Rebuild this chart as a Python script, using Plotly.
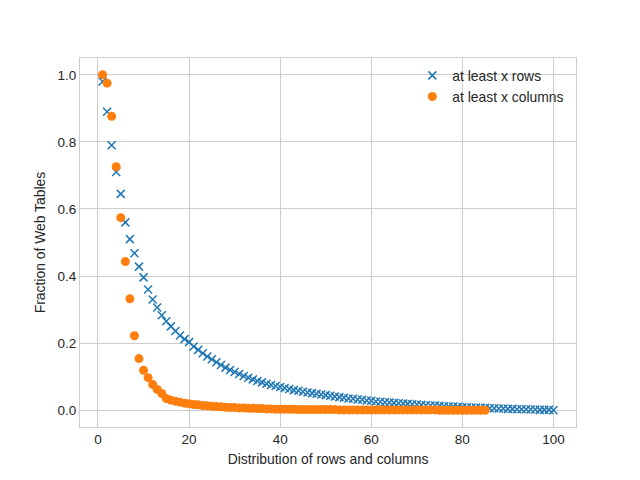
import plotly.graph_objects as go

# at least x rows (x = 1..100)
rows_x = list(range(1, 101))
rows_frac = [
    0.98, 0.89, 0.79, 0.71, 0.645, 0.56, 0.51, 0.468, 0.428, 0.396,
    0.36, 0.33, 0.306, 0.283, 0.265, 0.25, 0.236, 0.223, 0.212, 0.203,
    0.19, 0.18, 0.17, 0.16, 0.152, 0.143, 0.135, 0.127, 0.12, 0.114,
    0.108, 0.102, 0.097, 0.092, 0.087, 0.083, 0.079, 0.075, 0.072, 0.069,
    0.066, 0.063, 0.06, 0.058, 0.055, 0.053, 0.051, 0.049, 0.047, 0.045,
    0.043, 0.041, 0.039, 0.037, 0.035, 0.034, 0.032, 0.031, 0.029, 0.028,
    0.026, 0.025, 0.024, 0.023, 0.022, 0.021, 0.02, 0.019, 0.018, 0.017,
    0.016, 0.015, 0.014, 0.014, 0.013, 0.012, 0.011, 0.011, 0.01, 0.009,
    0.009, 0.008, 0.008, 0.007, 0.007, 0.006, 0.006, 0.005, 0.005, 0.004,
    0.004, 0.003, 0.003, 0.003, 0.002, 0.002, 0.001, 0.001, 0.001, 0.0,
]

# at least x columns (x = 1..85)
cols_x = list(range(1, 86))
cols_frac = [
    1.0, 0.975, 0.876, 0.726, 0.574, 0.443, 0.332, 0.222, 0.154, 0.119,
    0.097, 0.077, 0.062, 0.05, 0.035, 0.03, 0.027, 0.024, 0.021, 0.019,
    0.017, 0.016, 0.014, 0.013, 0.012, 0.011, 0.01, 0.009, 0.008, 0.008,
    0.007, 0.007, 0.006, 0.006, 0.005, 0.005, 0.004, 0.004, 0.003, 0.003,
    0.003, 0.003, 0.003, 0.002, 0.002, 0.002, 0.002, 0.002, 0.002, 0.002,
    0.002, 0.002, 0.001, 0.001, 0.001, 0.001, 0.001, 0.001, 0.001, 0.001,
    0.001, 0.001, 0.001, 0.001, 0.001, 0.001, 0.001, 0.001, 0.001, 0.001,
    0.001, 0.001, 0.001, 0.001, 0.0, 0.0, 0.0, 0.0, 0.0, 0.0,
    0.0, 0.0, 0.0, 0.0, 0.0,
]

x_ticks = [0, 20, 40, 60, 80, 100]
y_ticks = [0.0, 0.2, 0.4, 0.6, 0.8, 1.0]

txt = "#262626"
grid = "#cccccc"

fig = go.Figure()
fig.add_trace(go.Scatter(
    x=rows_x, y=rows_frac, mode="markers", name="at least x rows",
    marker=dict(symbol="x-thin", size=8, color="#1f77b4",
                line=dict(width=1.5, color="#1f77b4")),
))
fig.add_trace(go.Scatter(
    x=cols_x, y=cols_frac, mode="markers", name="at least x columns",
    marker=dict(symbol="circle", size=9, color="#ff7f0e"),
))

axis_common = dict(
    showgrid=True, gridcolor=grid, gridwidth=1,
    zeroline=False, showline=True, linecolor=grid, linewidth=1, mirror=True,
    ticks="", tickfont=dict(size=13.5, color=txt),
)
fig.update_xaxes(
    range=[-3.95, 104.95], tickvals=x_ticks,
    title=dict(text="Distribution of rows and columns", font=dict(size=13.9, color=txt), standoff=8),
    **axis_common,
)
fig.update_yaxes(
    range=[-0.05, 1.05], tickvals=y_ticks, tickformat=".1f",
    title=dict(text="Fraction of Web Tables", font=dict(size=13.9, color=txt), standoff=8),
    **axis_common,
)

# page body has an 8px margin, so the figure is a bit smaller and shifted
fig.update_layout(
    width=632, height=472,
    margin=dict(l=72, r=64, t=50, b=53),
    paper_bgcolor="white", plot_bgcolor="white",
    font=dict(family="Liberation Sans, Arial, sans-serif", color=txt),
    legend=dict(x=0.67, y=0.995, xanchor="left", yanchor="top",
                bgcolor="rgba(0,0,0,0)", font=dict(size=13.9, color=txt),
                tracegroupgap=2),
    showlegend=True,
)

fig.write_html("out.html")
